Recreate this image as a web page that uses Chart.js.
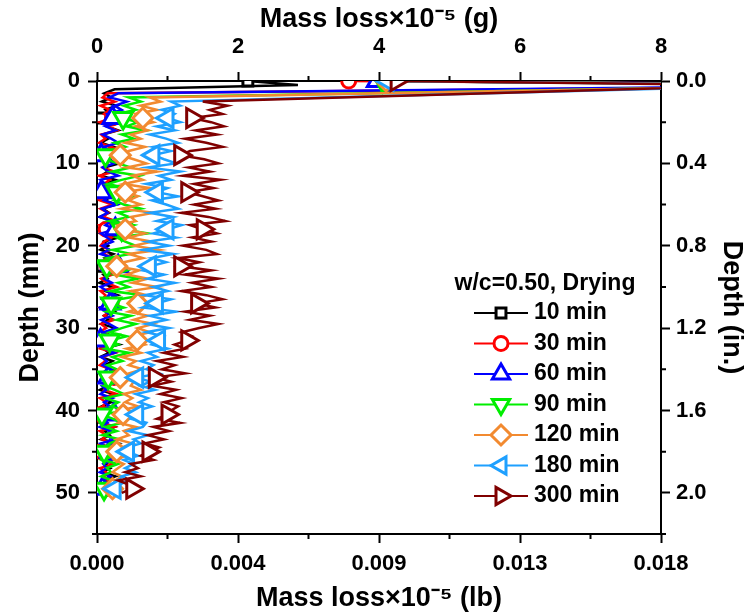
<!DOCTYPE html>
<html>
<head>
<meta charset="utf-8">
<script src="https://cdn.jsdelivr.net/npm/chart.js@4.4.1/dist/chart.umd.min.js"></script>
<style>
  html, body { margin: 0; padding: 0; background: #fff; }
</style>
</head>
<body>
<canvas id="depth-chart" width="748" height="615"></canvas>
<script>
// depth of each sample, mm (shared by all series)
const depthMm = [
  0, 0.5, 1, 1.5, 2, 2.5, 3, 3.5, 4, 4.5,
  5, 5.5, 6, 6.5, 7, 7.5, 8, 8.5, 9, 9.5,
  10, 10.5, 11, 11.5, 12, 12.5, 13, 13.5, 14, 14.5,
  15, 15.5, 16, 16.5, 17, 17.5, 18, 18.5, 19, 19.5,
  20, 20.5, 21, 21.5, 22, 22.5, 23, 23.5, 24, 24.5,
  25, 25.5, 26, 26.5, 27, 27.5, 28, 28.5, 29, 29.5,
  30, 30.5, 31, 31.5, 32, 32.5, 33, 33.5, 34, 34.5,
  35, 35.5, 36, 36.5, 37, 37.5, 38, 38.5, 39, 39.5,
  40, 40.5, 41, 41.5, 42, 42.5, 43, 43.5, 44, 44.5,
  45, 45.5, 46, 46.5, 47, 47.5, 48, 48.5, 49, 49.5,
  50
];

const seriesLabels = ['10 min', '30 min', '60 min', '90 min', '120 min', '180 min', '300 min'];

// mass loss x1e-5 g, one value per depth (null = no sample there)
const loss10 = [
  2.14, 2.85, 0.25, 0.10, 0.20, 0.07, 0.28, 0.12, 0.18, 0.06,
  0.22, 0.14, 0.30, 0.08, 0.16, 0.05, 0.24, 0.12, 0.20, 0.07,
  0.32, 0.10, 0.15, 0.06, 0.26, 0.12, 0.19, 0.05, 0.22, 0.10,
  0.28, 0.08, 0.17, 0.04, 0.25, 0.13, 0.20, 0.06, 0.30, 0.10,
  0.16, 0.05, 0.23, 0.11, 0.19, 0.07, 0.27, 0.09, 0.15, 0.04,
  0.21, 0.12, 0.29, 0.08, 0.18, 0.05, 0.24, 0.10, 0.16, 0.06,
  0.26, 0.12, 0.20, 0.07, 0.31, 0.09, 0.17, 0.05, 0.22, 0.11,
  0.19, 0.06, 0.27, 0.10, 0.15, 0.04, 0.23, 0.12, 0.20, 0.07,
  0.28, 0.09, 0.16, 0.05, 0.25, 0.11, 0.18, 0.06, 0.30, 0.10,
  0.17, 0.05, 0.22, 0.12, 0.19, 0.07, 0.26, 0.09, 0.15, 0.20,
  0.10
];
const loss30 = [
  3.57, 12.0, null, 0.15, 0.08, 0.25, 0.05, 0.18, 0.10, 0.22,
  0.04, 0.16, 0.28, 0.06, 0.12, 0.03, 0.20, 0.09, 0.26, 0.05,
  0.14, 0.08, 0.24, 0.03, 0.18, 0.10, 0.30, 0.06, 0.12, 0.04,
  0.22, 0.05, 0.16, 0.09, 0.27, 0.04, 0.13, 0.07, 0.21, 0.10,
  0.05, 0.18, 0.08, 0.25, 0.03, 0.15, 0.10, 0.22, 0.06, 0.14,
  0.28, 0.05, 0.12, 0.08, 0.20, 0.04, 0.17, 0.10, 0.24, 0.06,
  0.13, 0.03, 0.22, 0.09, 0.16, 0.05, 0.26, 0.08, 0.12, 0.04,
  0.19, 0.07, 0.24, 0.05, 0.15, 0.10, 0.28, 0.04, 0.13, 0.08,
  0.21, 0.05, 0.17, 0.09, 0.25, 0.04, 0.14, 0.07, 0.22, 0.10,
  0.06, 0.18, 0.08, 0.24, 0.04, 0.13, 0.09, 0.20, 0.05, 0.12,
  0.08
];
const loss60 = [
  3.97, 11.0, null, 0.30, 0.18, 0.42, 0.25, 0.35, 0.15, 0.22,
  0.32, 0.12, 0.26, 0.08, 0.20, 0.30, 0.10, 0.18, 0.06, 0.14,
  0.24, 0.08, 0.16, 0.30, 0.05, 0.12, 0.22, 0.06, 0.18, 0.10,
  0.28, 0.07, 0.15, 0.04, 0.20, 0.12, 0.26, 0.06, 0.14, 0.22,
  0.08, 0.18, 0.05, 0.24, 0.12, 0.30, 0.07, 0.16, 0.10, 0.21,
  0.05, 0.14, 0.26, 0.08, 0.19, 0.04, 0.12, 0.22, 0.06, 0.17,
  0.28, 0.09, 0.15, 0.05, 0.21, 0.12, 0.25, 0.06, 0.14, 0.08,
  0.20, 0.04, 0.16, 0.27, 0.07, 0.13, 0.05, 0.22, 0.10, 0.18,
  0.06, 0.24, 0.09, 0.15, 0.04, 0.20, 0.11, 0.26, 0.05, 0.13,
  0.18, 0.06, 0.22, 0.09, 0.14, 0.04, 0.19, 0.07, 0.12, 0.08,
  0.05
];
const loss90 = [
  4.05, 10.5, null, null, 0.45, 0.62, 0.38, 0.55, 0.30, 0.37,
  0.58, 0.42, 0.70, 0.35, 0.52, 0.25, 0.40, 0.18, 0.12, 0.11,
  0.30, 0.48, 0.22, 0.60, 0.35, 0.15, 0.42, 0.28, 0.55, 0.25,
  0.38, 0.62, 0.30, 0.45, 0.18, 0.52, 0.35, 0.72, 0.28, 0.40,
  0.55, 0.22, 0.48, 0.15, 0.35, 0.14, 0.42, 0.25, 0.58, 0.30,
  0.45, 0.20, 0.65, 0.32, 0.20, 0.38, 0.15, 0.48, 0.28, 0.55,
  0.35, 0.18, 0.42, 0.18, 0.30, 0.12, 0.45, 0.22, 0.36, 0.15,
  0.28, 0.40, 0.16, 0.32, 0.10, 0.25, 0.38, 0.12, 0.30, 0.20,
  0.42, 0.07, 0.22, 0.35, 0.12, 0.28, 0.08, 0.32, 0.18, 0.10,
  0.10, 0.25, 0.08, 0.30, 0.14, 0.20, 0.06, 0.22, 0.12, 0.10,
  0.08
];
const loss120 = [
  4.10, 10.5, null, null, 0.75, 0.90, 0.62, 0.85, 0.55, 0.65,
  0.80, 0.55, 0.72, 0.48, 0.62, 0.40, 0.68, 0.45, 0.33, 0.52,
  0.70, 0.42, 0.85, 0.50, 0.65, 0.38, 0.75, 0.40, 0.58, 0.45,
  0.62, 0.35, 0.80, 0.48, 0.55, 0.30, 0.40, 0.68, 0.45, 0.78,
  0.52, 0.88, 0.45, 0.65, 0.38, 0.28, 0.60, 0.42, 0.72, 0.50,
  0.85, 0.48, 0.70, 0.55, 0.58, 0.62, 0.45, 0.72, 0.52, 0.80,
  0.58, 0.75, 0.50, 0.57, 0.68, 0.42, 0.62, 0.35, 0.55, 0.45,
  0.65, 0.45, 0.33, 0.52, 0.48, 0.62, 0.38, 0.50, 0.40, 0.58,
  0.35, 0.37, 0.40, 0.30, 0.55, 0.38, 0.45, 0.28, 0.50, 0.35,
  0.28, 0.42, 0.25, 0.38, 0.30, 0.22, 0.35, 0.26, 0.20, 0.22,
  0.18
];
const loss180 = [
  4.12, 10.0, null, null, null, 1.05, 1.18, 0.92, 1.10, 1.00,
  1.18, 0.85, 1.10, 0.75, 0.98, 1.15, 0.80, 1.05, 0.80, 0.95,
  1.12, 0.72, 1.18, 0.88, 1.05, 0.70, 1.00, 0.85, 1.15, 0.78,
  0.98, 1.15, 0.75, 1.08, 0.85, 1.20, 1.00, 0.80, 1.12, 0.72,
  1.02, 0.65, 1.08, 0.78, 0.98, 0.75, 0.65, 0.95, 0.72, 1.10,
  0.80, 1.00, 0.68, 1.05, 0.85, 0.65, 1.12, 0.75, 0.98, 0.70,
  1.02, 0.70, 0.95, 0.88, 0.78, 1.00, 0.72, 0.85, 0.62, 0.80,
  0.70, 0.88, 0.57, 0.75, 0.62, 0.82, 0.55, 0.72, 0.60, 0.78,
  0.58, 0.57, 0.48, 0.70, 0.65, 0.45, 0.72, 0.52, 0.62, 0.42,
  0.44, 0.58, 0.38, 0.52, 0.40, 0.55, 0.35, 0.45, 0.32, 0.25,
  0.22
];
const loss300 = [
  4.25, 9.5, null, null, null, 1.50, 1.85, 1.60, 1.78, 1.35,
  1.62, 1.80, 1.40, 1.70, 1.25, 1.55, 1.78, 1.32, 1.18, 1.52,
  1.72, 1.30, 1.60, 1.22, 1.75, 1.38, 1.65, 1.28, 1.50, 1.72,
  1.38, 1.68, 1.20, 1.58, 1.82, 1.32, 1.50, 1.70, 1.35, 1.62,
  1.22, 1.55, 1.70, 1.15, 1.45, 1.18, 1.62, 1.25, 1.72, 1.35,
  1.62, 1.20, 1.55, 1.78, 1.42, 1.68, 1.25, 1.60, 1.32, 1.72,
  1.45, 1.20, 1.35, 1.28, 1.10, 1.25, 0.95, 1.22, 0.85, 1.10,
  0.92, 1.25, 0.82, 1.05, 0.78, 1.12, 0.90, 1.20, 0.95, 1.15,
  1.05, 1.00, 0.85, 1.18, 0.80, 1.02, 0.72, 0.95, 0.68, 0.88,
  0.73, 0.62, 0.80, 0.48, 0.58, 0.40, 0.62, 0.30, 0.45, 0.50,
  0.35
];

// tick labels
const topTickLabels = ['0', '2', '4', '6', '8'];
const bottomTickLabels = ['0.000', '0.004', '0.009', '0.013', '0.018'];
const leftTickLabels = ['0', '10', '20', '30', '40', '50'];
const rightTickLabels = ['0.0', '0.4', '0.8', '1.2', '1.6', '2.0'];
const xMinorTicks = [1, 3, 5, 7];
const yMinorTicks = [5, 15, 25, 35, 45, 55];
const legendTitle = 'w/c=0.50, Drying';

// styles
const allLoss = [loss10, loss30, loss60, loss90, loss120, loss180, loss300];
const colors = ['#000000', '#ff0000', '#0000ff', '#00ee00', '#f28a30', '#1ea0ff', '#800000'];
const markers = ['rect', 'circle', 'triangle', 'triangle', 'rectRot', 'triangle', 'triangle'];
const markerRot = [0, 0, 0, 180, 0, 270, 90];
const markerSize = [7, 7, 11, 11, 10, 11, 11];
const markerEvery = 9;

const SANS = '"Liberation Sans", Arial, sans-serif';

const datasets = allLoss.map((vals, i) => ({
  label: seriesLabels[i],
  data: vals.map((v, k) => ({ x: v, y: depthMm[k] })),
  borderColor: colors[i],
  backgroundColor: '#ffffff',
  borderWidth: 2.5,
  pointStyle: markers[i],
  pointRotation: markerRot[i],
  pointRadius: ctx => (ctx.dataIndex % markerEvery === 0 ? markerSize[i] : 0),
  pointBorderWidth: 3,
  pointBorderColor: colors[i],
  pointBackgroundColor: '#ffffff',
  spanGaps: true,
  tension: 0,
  order: allLoss.length - i
}));

const tickGrid = {
  display: true,
  drawOnChartArea: false,
  drawTicks: true,
  tickLength: 9,
  tickWidth: 2,
  tickColor: '#000'
};
const axisBorder = { display: true, width: 2, color: '#000' };
const tickFont = { family: SANS, size: 22, weight: 'bold' };
const titleFont = { family: SANS, size: 27, weight: 'bold' };

// half-length ticks between the labelled ones
const minorTicks = {
  id: 'minorTicks',
  afterDraw(chart) {
    const { ctx, chartArea: a, scales } = chart;
    ctx.save();
    ctx.strokeStyle = '#000';
    ctx.lineWidth = 2;
    ctx.beginPath();
    xMinorTicks.forEach(v => {
      const px = scales.x.getPixelForValue(v);
      ctx.moveTo(px, a.top); ctx.lineTo(px, a.top - 5);
      ctx.moveTo(px, a.bottom); ctx.lineTo(px, a.bottom + 5);
    });
    yMinorTicks.forEach(v => {
      const py = scales.y.getPixelForValue(v);
      ctx.moveTo(a.left, py); ctx.lineTo(a.left - 5, py);
      ctx.moveTo(a.right, py); ctx.lineTo(a.right + 5, py);
    });
    ctx.stroke();
    ctx.restore();
  }
};

const legendBox = {
  id: 'legendBox',
  afterDraw(chart) {
    const ctx = chart.ctx;
    ctx.save();
    ctx.font = 'bold 23px ' + SANS;
    ctx.textBaseline = 'middle';
    ctx.fillStyle = '#000';
    ctx.textAlign = 'center';
    ctx.fillText(legendTitle, 545, 284);
    ctx.textAlign = 'left';
    chart.data.datasets.forEach((ds, i) => {
      const y = 313 + i * 30.5;
      ctx.strokeStyle = ds.borderColor;
      ctx.lineWidth = 2;
      ctx.beginPath();
      ctx.moveTo(474, y);
      ctx.lineTo(528, y);
      ctx.stroke();
      ctx.lineWidth = 3;
      ctx.fillStyle = '#fff';
      Chart.helpers.drawPoint(ctx, {
        pointStyle: ds.pointStyle,
        rotation: ds.pointRotation,
        radius: Math.min(markerSize[i], 10),
        borderWidth: 3
      }, 501, y);
      ctx.fillStyle = '#000';
      ctx.fillText(ds.label, 534, y);
    });
    ctx.restore();
  }
};

new Chart(document.getElementById('depth-chart'), {
  type: 'line',
  data: { datasets },
  options: {
    responsive: false,
    animation: false,
    events: [],
    plugins: { legend: { display: false }, tooltip: { enabled: false } },
    scales: {
      x: {
        type: 'linear', position: 'top', min: 0, max: 8,
        ticks: { stepSize: 2, padding: 12, color: '#000', font: tickFont,
                 callback: v => topTickLabels[v / 2] },
        grid: tickGrid, border: axisBorder,
        title: { display: true, text: 'Mass loss×10⁻⁵ (g)', color: '#000',
                 font: titleFont, padding: { top: 3, bottom: 0 } },
        afterFit: s => { s.height = 81; }
      },
      x2: {
        type: 'linear', position: 'bottom', min: 0, max: 8,
        ticks: { stepSize: 2, padding: 8, color: '#000', font: tickFont,
                 callback: v => bottomTickLabels[v / 2] },
        grid: tickGrid, border: axisBorder,
        title: { display: true, text: 'Mass loss×10⁻⁵ (lb)', color: '#000',
                 font: titleFont, padding: { top: 0, bottom: 0 } },
        afterFit: s => { s.height = 81; }
      },
      y: {
        type: 'linear', position: 'left', reverse: true, min: 0, max: 55,
        ticks: { stepSize: 10, includeBounds: false, padding: 8, color: '#000', font: tickFont,
                 callback: v => leftTickLabels[v / 10] },
        grid: tickGrid, border: axisBorder,
        title: { display: true, text: 'Depth (mm)', color: '#000',
                 font: titleFont, padding: { top: 14, bottom: 0 } },
        afterFit: s => { s.width = 97; }
      },
      y2: {
        type: 'linear', position: 'right', reverse: true, min: 0, max: 55,
        ticks: { stepSize: 10, includeBounds: false, padding: 6, color: '#000', font: tickFont,
                 callback: v => rightTickLabels[v / 10] },
        grid: tickGrid, border: axisBorder,
        title: { display: true, text: 'Depth (in.)', color: '#000',
                 font: titleFont, padding: { top: 0, bottom: 0 } },
        afterFit: s => { s.width = 87; }
      }
    }
  },
  plugins: [minorTicks, legendBox]
});
</script>
</body>
</html>
